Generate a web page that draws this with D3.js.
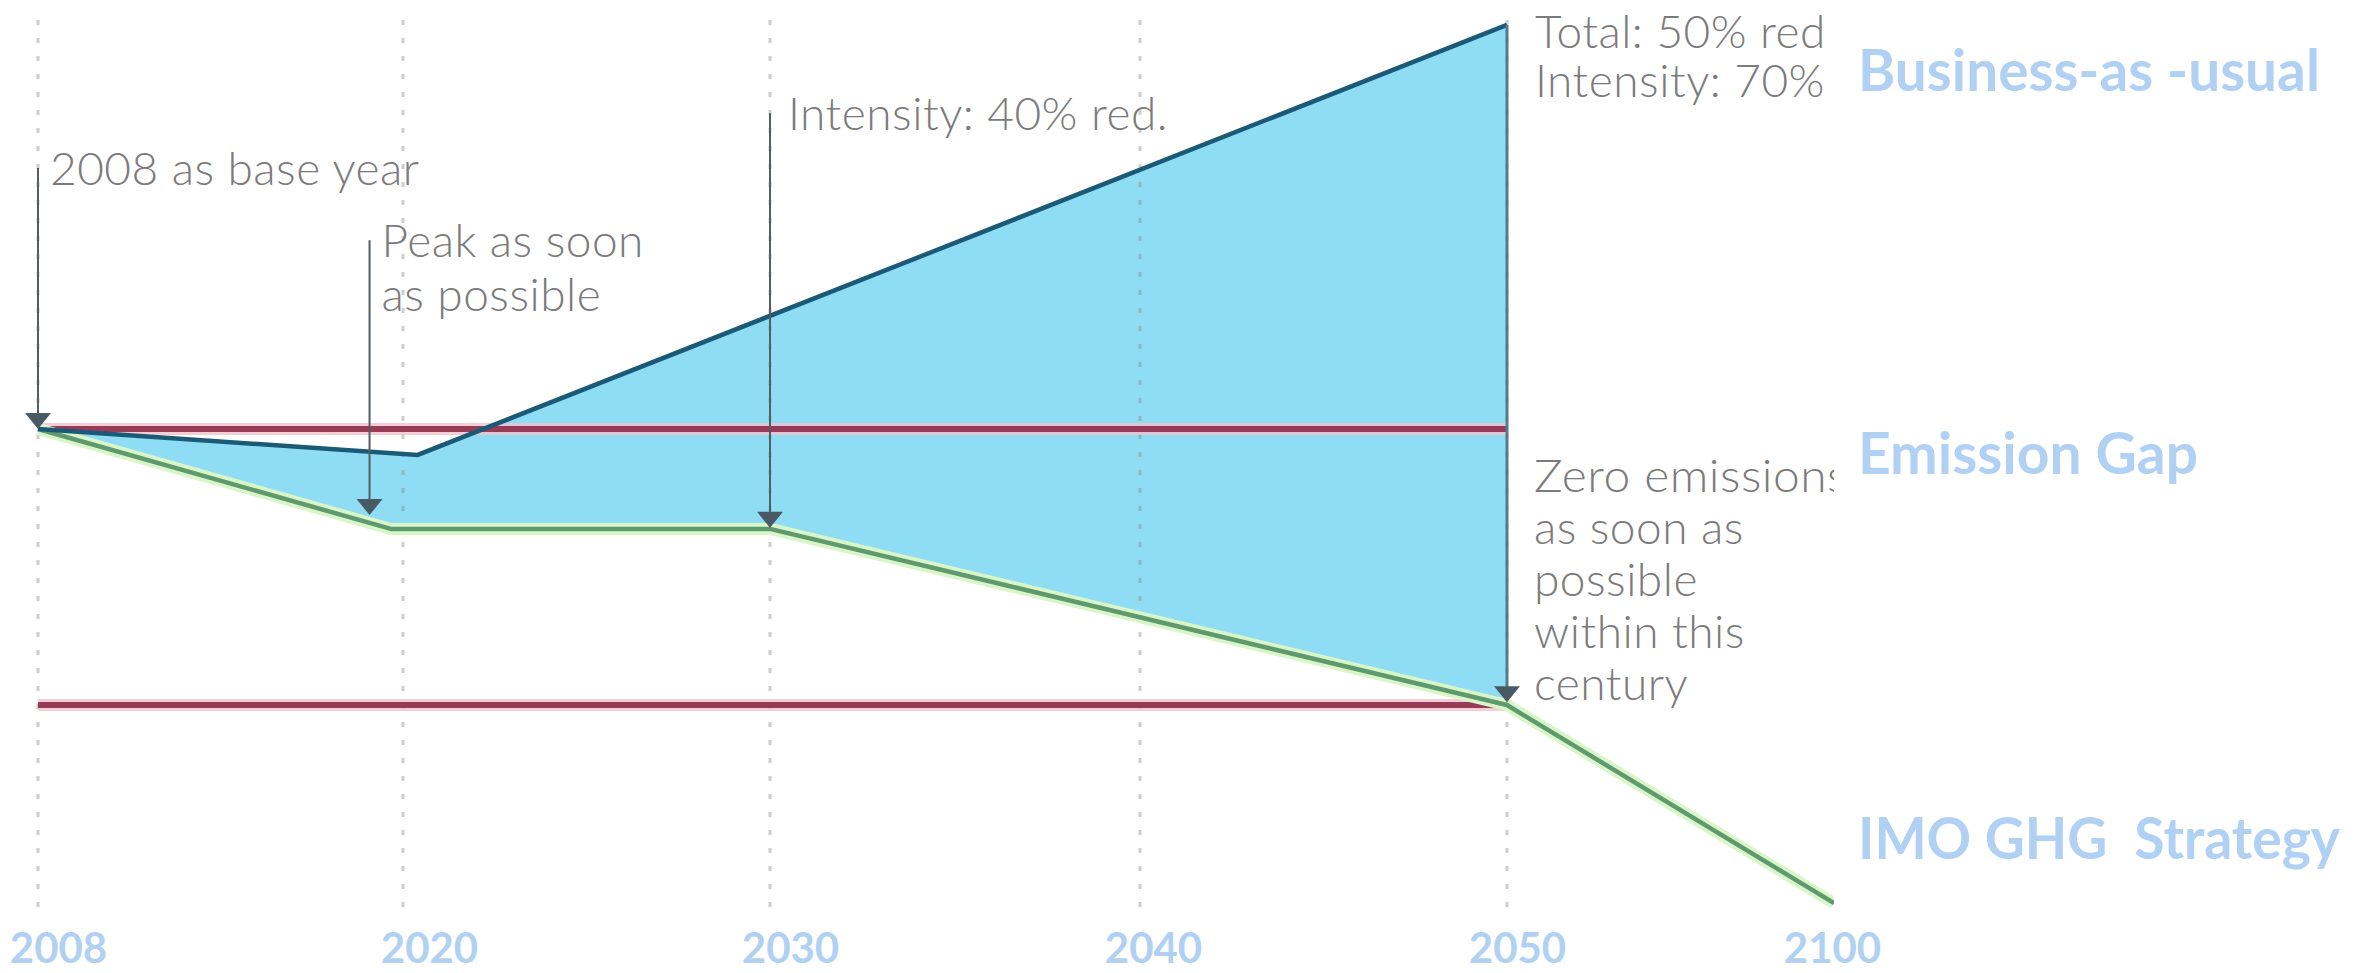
<!DOCTYPE html>
<html>
<head>
<meta charset="utf-8">
<script src="https://cdn.jsdelivr.net/npm/d3@7/dist/d3.min.js"></script>
<style>
  html, body { margin: 0; padding: 0; background: #ffffff; }
  svg { display: block; }
  text { white-space: pre; }
</style>
</head>
<body>
<svg id="chart" width="2377" height="973"></svg>
<script>
// ---------------- data ----------------
const tickYears = [2008, 2020, 2030, 2040, 2050, 2100];
const gridYears = [2008, 2020, 2030, 2040, 2050];

// Business-as-usual emissions (index, 2008 = 100)
const bauYears  = [2008, 2020.4, 2050];
const bauValues = [100, 95.3, 173.2];

// IMO GHG Strategy pathway (index, 2008 = 100)
const imoYears  = [2008, 2019.6, 2030, 2050, 2100];
const imoValues = [100, 81.9, 81.9, 50, 14.1];

// reference levels: 2008 base and 50 % total reduction
const refLevels = [100, 50];

// annotations: arrow year, arrow top value, arrow tip value, text lines
const annoYears = [2008, 2018.9, 2030];
const annoTops  = [147.3, 134.2, 157.2];
const annoTips  = [100, 84.4, 82.1];
const annoTexts = [
  ["2008 as base year"],
  ["Peak as soon", "as possible"],
  ["Intensity: 40% red."]
];
const totalTexts = ["Total: 50% red", "Intensity: 70%"];
const zeroTexts  = ["Zero emissions", "as soon as", "possible", "within this", "century"];
const sideLabels = ["Business-as -usual", "Emission Gap", "IMO GHG  Strategy"];
const sideValues = [161.3, 91.8, 22.1];

// ---------------- scales ----------------
const svg = d3.select("#chart");
const x = d3.scaleLinear().domain(tickYears).range([38, 403, 770, 1140, 1507, 1834]);
const xLab = d3.scaleLinear().domain(tickYears).range([58, 429, 790, 1153, 1517, 1832]);
const y = d3.scaleLinear().domain([100, 50]).range([429, 705]);

const bau = bauYears.map((d, i) => [d, bauValues[i]]);
const imo = imoYears.map((d, i) => [d, imoValues[i]]);
const line = d3.line().x(d => x(d[0])).y(d => y(d[1]));

svg.append("defs").append("clipPath").attr("id", "plotClip")
  .append("rect").attr("x", 0).attr("y", 0).attr("width", 1834).attr("height", 973);

const g = svg.append("g").attr("clip-path", "url(#plotClip)");

// ---------------- gap fill ----------------
const imoUpTo2050 = imo.filter(d => d[0] <= 2050);
const poly = bau.concat(imoUpTo2050.slice().reverse());
g.append("path")
  .attr("d", line(poly) + "Z")
  .attr("fill", "#8fdcf5");

// ---------------- gridlines ----------------
g.selectAll(".grid").data(gridYears).join("line")
  .attr("class", "grid")
  .attr("x1", d => x(d)).attr("x2", d => x(d))
  .attr("y1", 20).attr("y2", 915)
  .attr("stroke", "rgba(130,130,130,0.4)")
  .attr("stroke-width", 3)
  .attr("stroke-dasharray", "5,13");

// ---------------- reference lines ----------------
refLevels.forEach(v => {
  g.append("line")
    .attr("x1", x(2008)).attr("x2", x(2050))
    .attr("y1", y(v)).attr("y2", y(v))
    .attr("stroke", "#f2c3cd").attr("stroke-width", 12).attr("opacity", 0.8);
  g.append("line")
    .attr("x1", x(2008)).attr("x2", x(2050))
    .attr("y1", y(v)).attr("y2", y(v))
    .attr("stroke", "#983b58").attr("stroke-width", 6);
});

// ---------------- IMO strategy line ----------------
g.append("path").attr("d", line(imo))
  .attr("fill", "none").attr("stroke", "#d9f6c8").attr("stroke-width", 12)
  .attr("stroke-linejoin", "round");
g.append("path").attr("d", line(imo))
  .attr("fill", "none").attr("stroke", "#5f9a6f").attr("stroke-width", 4.5)
  .attr("stroke-linejoin", "round");

// ---------------- BAU line ----------------
g.append("path").attr("d", line(bau))
  .attr("fill", "none").attr("stroke", "#1b5a76").attr("stroke-width", 4.5)
  .attr("stroke-linejoin", "miter");

// ---------------- 2050 vertical (gap arrow) ----------------
const bauEnd = bau[bau.length - 1];
const tip2050 = 50.5;
g.append("line")
  .attr("x1", x(2050)).attr("x2", x(2050))
  .attr("y1", y(bauEnd[1])).attr("y2", y(tip2050) - 8)
  .attr("stroke", "#557a8b").attr("stroke-width", 3);

function arrowHead(xx, yy) {
  g.append("path")
    .attr("d", d3.line()([[xx - 13, yy - 16], [xx + 13, yy - 16], [xx, yy]]) + "Z")
    .attr("fill", "#4a5a64");
}
arrowHead(x(2050), y(tip2050));

// ---------------- annotation arrows ----------------
const textStyle = sel => sel
  .attr("font-family", "Lato, 'Open Sans', sans-serif")
  .attr("font-weight", 300)
  .attr("font-size", 46)
  .attr("letter-spacing", 0.5)
  .attr("fill", "#7b7b7b");

annoYears.forEach((yr, i) => {
  const ax = x(yr);
  g.append("line")
    .attr("x1", ax).attr("x2", ax)
    .attr("y1", y(annoTops[i])).attr("y2", y(annoTips[i]) - 8)
    .attr("stroke", "#555d62").attr("stroke-width", 2);
  arrowHead(ax, y(annoTips[i]));
  const t = g.append("text").call(textStyle);
  annoTexts[i].forEach((s, j) => {
    t.append("tspan")
      .attr("x", ax + (i === 2 ? 18 : 12))
      .attr("y", y(annoTops[i]) + 17 + j * 54)
      .text(s);
  });
});

// 2050 annotations
const t1 = g.append("text").call(textStyle);
totalTexts.forEach((s, j) => {
  t1.append("tspan").attr("x", x(2050) + 28)
    .attr("y", y(bauEnd[1]) + 23 + j * 49).text(s);
});
zeroTexts.forEach((s, j) => {
  const t = g.append("text").call(textStyle)
    .attr("x", x(2050) + 27)
    .attr("y", y(88.6) + j * 52)
    .text(s);
  if (j === 0) t.attr("textLength", 314).attr("lengthAdjust", "spacingAndGlyphs");
});

// ---------------- x axis labels ----------------
const axis = d3.axisBottom(xLab).tickValues(tickYears).tickSize(0).tickFormat(d3.format("d"));
const ax = svg.append("g").attr("transform", "translate(0,930)").call(axis);
ax.select(".domain").remove();
ax.selectAll("text")
  .attr("dy", 0).attr("y", 33)
  .attr("font-family", "Lato, 'Open Sans', sans-serif")
  .attr("font-weight", 700)
  .attr("font-size", 42)
  .attr("fill", "#b0d1f3");

// ---------------- side labels ----------------
const sideWidths = [462, 340, 482];
sideLabels.forEach((s, i) => {
  svg.append("text")
    .attr("x", 1858)
    .attr("y", y(sideValues[i]))
    .attr("font-family", "Lato, 'Open Sans', sans-serif")
    .attr("font-weight", 700)
    .attr("font-size", 57)
    .attr("fill", "#b0d1f3")
    .attr("textLength", sideWidths[i])
    .attr("lengthAdjust", "spacingAndGlyphs")
    .text(s);
});
</script>
</body>
</html>
